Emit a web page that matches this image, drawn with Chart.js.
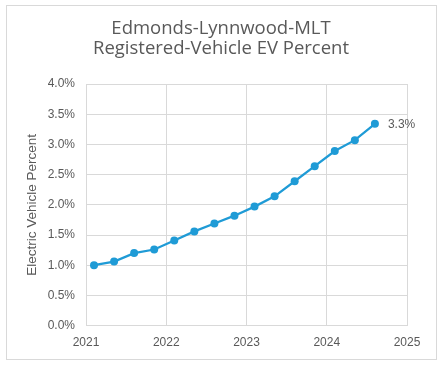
<!DOCTYPE html>
<html>
<head>
<meta charset="utf-8">
<script src="https://cdn.jsdelivr.net/npm/chart.js@4.4.1/dist/chart.umd.min.js"></script>
<style>
  html, body { margin: 0; padding: 0; background: #fff; }
  #frame { position: absolute; left: 6px; top: 5px; width: 429px; height: 353px; border: 1px solid #d9d9d9; }
  #evChart { position: absolute; left: 0; top: 0; }
</style>
</head>
<body>
<div id="frame"></div>
<canvas id="evChart" width="444" height="365"></canvas>
<script>
// quarterly snapshots, as decimal years
var dates = [2021.1, 2021.35, 2021.6, 2021.85, 2022.1, 2022.35, 2022.6, 2022.85,
             2023.1, 2023.35, 2023.6, 2023.85, 2024.1, 2024.35, 2024.6];
var evPercent = [1.00, 1.06, 1.20, 1.26, 1.41, 1.56, 1.69, 1.82,
                 1.97, 2.14, 2.39, 2.64, 2.89, 3.07, 3.34];
var titleLines = ["Edmonds-Lynnwood-MLT", "Registered-Vehicle EV Percent"];
var yAxisTitle = "Electric Vehicle Percent";
var xMin = 2021, xMax = 2025;
var yMin = 0, yMax = 4;

var blue = "#1f9bd6";
var textGrey = "#595959";
var gridGrey = "#d9d9d9";

var points = dates.map(function (d, i) { return { x: d, y: evPercent[i] }; });

// two line title centred on the whole frame, not on the plot
var frameTitle = {
    id: "frameTitle",
    afterDraw: function (chart) {
        var ctx = chart.ctx;
        ctx.save();
        ctx.font = "18.5px 'Open Sans', sans-serif";
        ctx.fillStyle = textGrey;
        ctx.textAlign = "center";
        ctx.textBaseline = "middle";
        titleLines.forEach(function (t, i) {
            ctx.fillText(t, 221, 29 + i * 20);
        });
        ctx.restore();
    }
};

// label next to the last point, like the excel data label
var lastLabel = {
    id: "lastLabel",
    afterDatasetsDraw: function (chart) {
        var meta = chart.getDatasetMeta(0);
        var el = meta.data[meta.data.length - 1];
        var ctx = chart.ctx;
        ctx.save();
        ctx.font = "12px 'Liberation Sans', Arial, sans-serif";
        ctx.fillStyle = textGrey;
        ctx.textAlign = "left";
        ctx.textBaseline = "middle";
        ctx.fillText(evPercent[evPercent.length - 1].toFixed(1) + "%", el.x + 13, el.y + 1);
        ctx.restore();
    }
};

var ctx = document.getElementById("evChart");
var evChart = new Chart(ctx, {
    type: "line",
    data: {
        datasets: [{
            data: points,
            borderColor: blue,
            backgroundColor: blue,
            borderWidth: 2.25,
            pointRadius: 4,
            pointBorderWidth: 0,
            tension: 0
        }]
    },
    options: {
        responsive: false,
        animation: false,
        layout: { padding: { left: 0, right: 37, top: 84, bottom: 5 } },
        plugins: {
            legend: { display: false },
            tooltip: { enabled: false },
            title: { display: false }
        },
        scales: {
            x: {
                type: "linear",
                min: xMin,
                max: xMax,
                ticks: {
                    stepSize: 1,
                    padding: 10,
                    color: textGrey,
                    font: { family: "'Liberation Sans', Arial, sans-serif", size: 12 },
                    callback: function (v) { return String(v); }
                },
                grid: { color: gridGrey, drawTicks: false },
                border: { color: gridGrey }
            },
            y: {
                min: yMin,
                max: yMax,
                afterFit: function (scale) { scale.width = 86; },
                ticks: {
                    stepSize: 0.5,
                    padding: 11,
                    color: textGrey,
                    font: { family: "'Liberation Sans', Arial, sans-serif", size: 12 },
                    callback: function (v) { return v.toFixed(1) + "%"; }
                },
                grid: { color: gridGrey, drawTicks: false },
                border: { color: gridGrey },
                title: {
                    display: true,
                    text: yAxisTitle,
                    color: textGrey,
                    font: { family: "'Liberation Sans', Arial, sans-serif", size: 13.5 },
                    padding: { top: 24, bottom: 0 }
                }
            }
        }
    },
    plugins: [lastLabel, frameTitle]
});
</script>
</body>
</html>
